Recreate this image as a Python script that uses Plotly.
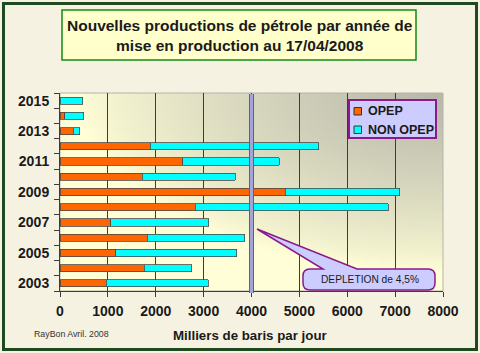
import base64, struct, zlib
import plotly.graph_objects as go

# ---- data ----
years = [2003, 2004, 2005, 2006, 2007, 2008, 2009, 2010, 2011, 2012, 2013, 2014, 2015]
opep = [965, 1764, 1167, 1826, 1056, 2826, 4700, 1715, 2569, 1889, 278, 104, 0]
non_opep = [2132, 986, 2521, 2028, 2055, 4034, 2395, 1945, 2011, 3511, 132, 396, 470]
series_names = ["OPEP", "NON OPEP"]
series_colors = ["#ff6600", "#00ffff"]
x_ticks = [0, 1000, 2000, 3000, 4000, 5000, 6000, 7000, 8000]
y_labels = [2003, 2005, 2007, 2009, 2011, 2013, 2015]
depletion_level = 4000

W, H = 480, 353
L, R, T, B = 60, 37, 93, 62
PW, PH = W - L - R, H - T - B
FONT = "Liberation Sans, Arial, sans-serif"


def px(x):
    return (x - L) / PW


def py(y):
    return (H - B - y) / PH


# ---- gradient background image for plot area ----
def gradient_png(w=96, h=60):
    yel = (255, 254, 214)
    gry = (182, 182, 170)
    rows = b""
    for j in range(h):
        rows += b"\x00"
        v = (j + 0.5) / h
        for i in range(w):
            u = (i + 0.5) / w
            d = (((1 - u) / 0.95) ** 2 + (v / 0.9) ** 2) ** 0.5
            t = max(0.0, min(1.0, 1 - d)) ** 0.8
            c = [int(round(yel[k] * (1 - t) + gry[k] * t)) for k in range(3)]
            rows += bytes(c)

    def chunk(tag, data):
        return struct.pack(">I", len(data)) + tag + data + struct.pack(">I", zlib.crc32(tag + data) & 0xffffffff)

    png = b"\x89PNG\r\n\x1a\n"
    png += chunk(b"IHDR", struct.pack(">IIBBBBB", w, h, 8, 2, 0, 0, 0))
    png += chunk(b"IDAT", zlib.compress(rows, 9))
    png += chunk(b"IEND", b"")
    return "data:image/png;base64," + base64.b64encode(png).decode()


fig = go.Figure()
for vals, name, col in zip([opep, non_opep], series_names, series_colors):
    fig.add_trace(go.Bar(y=years, x=vals, name=name, orientation="h",
                         marker=dict(color=col, line=dict(color="#4a4a4a", width=0.8)),
                         width=0.47, showlegend=False))

shapes = []
# outer frame
shapes.append(dict(type="rect", xref="paper", yref="paper",
                   x0=px(3.5), x1=px(476.5), y0=py(349.5), y1=py(3.5),
                   line=dict(color="#1f4a1f", width=3), layer="below"))
# plot area border (top/right light)
shapes.append(dict(type="rect", xref="paper", yref="paper", x0=0, x1=1, y0=0, y1=1,
                   line=dict(color="#b4b4aa", width=1), layer="below"))
# title box
shapes.append(dict(type="rect", xref="paper", yref="paper",
                   x0=px(62), x1=px(416), y0=py(60), y1=py(10),
                   fillcolor="#ffffcc", line=dict(color="#128a12", width=1.5)))
# depletion line
shapes.append(dict(type="line", xref="x", yref="paper", x0=depletion_level, x1=depletion_level,
                   y0=py(293), y1=py(94), line=dict(color="#5e5e88", width=5)))
shapes.append(dict(type="line", xref="x", yref="paper", x0=depletion_level, x1=depletion_level,
                   y0=py(293), y1=py(94), line=dict(color="#a4a4d8", width=3)))

# legend box (manual)
shapes.append(dict(type="rect", xref="paper", yref="paper",
                   x0=px(349), x1=px(436), y0=py(138), y1=py(100),
                   fillcolor="#ccccff", line=dict(color="#8a1a8a", width=2)))
leg_y = [111, 129.5]
for yy, col in zip(leg_y, series_colors):
    shapes.append(dict(type="rect", xref="paper", yref="paper",
                       x0=px(354), x1=px(361.5), y0=py(yy + 4), y1=py(yy - 3.5),
                       fillcolor=col, line=dict(color="#333333", width=1)))

# callout with pointer
bx0, bx1, by0, by1, r = 303, 435, 269, 290, 7
tip = (257, 229)
base_l, base_r = 323, 357
pts = [
    ("M", bx0 + r, by0), ("L", base_l, by0), ("L", tip[0], tip[1]), ("L", base_r, by0),
    ("L", bx1 - r, by0), ("Q", bx1, by0, bx1, by0 + r), ("L", bx1, by1 - r),
    ("Q", bx1, by1, bx1 - r, by1), ("L", bx0 + r, by1), ("Q", bx0, by1, bx0, by1 - r),
    ("L", bx0, by0 + r), ("Q", bx0, by0, bx0 + r, by0),
]
path = ""
for p in pts:
    cmd = p[0]
    coords = p[1:]
    conv = []
    for k in range(0, len(coords), 2):
        conv.append(f"{px(coords[k]):.5f},{py(coords[k + 1]):.5f}")
    path += cmd + " " + " ".join(conv) + " "
path += "Z"
shapes.append(dict(type="path", xref="paper", yref="paper", path=path,
                   fillcolor="#ccccff", line=dict(color="#8a1a8a", width=1.5)))

annotations = [
    dict(text="<b>Nouvelles productions de pétrole par année de<br>mise en production au 17/04/2008</b>",
         xref="paper", yref="paper", x=px(239.5), y=py(35.5), xanchor="center", yanchor="middle",
         showarrow=False, font=dict(family=FONT, size=15.5, color="#1a1a1a"), align="center"),
    dict(text="DEPLETION de 4,5%", xref="paper", yref="paper", x=px(370), y=py(279.5),
         xanchor="center", yanchor="middle",
         showarrow=False, font=dict(family=FONT, size=10.2, color="#1a1a1a")),
    dict(text="<b>Milliers de baris par jour</b>", xref="paper", yref="paper", x=px(250), y=py(335),
         xanchor="center", yanchor="middle",
         showarrow=False, font=dict(family=FONT, size=13.3, color="#1a1a1a")),
    dict(text="RayBon Avril. 2008", xref="paper", yref="paper", x=px(32), y=py(334),
         xanchor="left", yanchor="middle", showarrow=False,
         font=dict(family=FONT, size=8.8, color="#333333")),
]
for yy, name in zip(leg_y, series_names):
    annotations.append(dict(text=f"<b>{name}</b>", xref="paper", yref="paper", x=px(365.5), y=py(yy),
                            xanchor="left", yanchor="middle", showarrow=False,
                            font=dict(family=FONT, size=12.5, color="#1a1a1a")))

fig.update_layout(
    width=W, height=H,
    margin=dict(l=L, r=R, t=T, b=B, pad=0),
    barmode="stack",
    paper_bgcolor="#f6f2e2",
    plot_bgcolor="#fffed6",
    font=dict(family=FONT, color="#1a1a1a"),
    showlegend=False,
    images=[dict(source=gradient_png(), xref="paper", yref="paper", x=0, y=1,
                 sizex=1, sizey=1, sizing="stretch", layer="below", xanchor="left", yanchor="top")],
    shapes=shapes,
    annotations=annotations,
    xaxis=dict(range=[0, 8000], tickvals=x_ticks, ticktext=[str(v) for v in x_ticks],
               showgrid=True, gridcolor="#3c3c3c", gridwidth=1, zeroline=False,
               showline=True, linecolor="#3c3c3c", linewidth=1,
               ticks="outside", ticklen=5, tickcolor="#3c3c3c", ticklabelstandoff=2,
               tickfont=dict(family=FONT, size=14, color="#1a1a1a", weight="bold")),
    yaxis=dict(range=[2002.5, 2015.5], tickvals=y_labels, ticktext=[str(v) for v in y_labels],
               showgrid=False, zeroline=False, showline=True, linecolor="#3c3c3c", linewidth=1,
               ticks="", ticklabelstandoff=7,
               minor=dict(tickvals=[y - 0.5 for y in years] + [2015.5], ticks="outside",
                          ticklen=5, tickcolor="#3c3c3c", showgrid=False),
               tickfont=dict(family=FONT, size=14, color="#1a1a1a", weight="bold")),
)

fig.write_html("out.html")
